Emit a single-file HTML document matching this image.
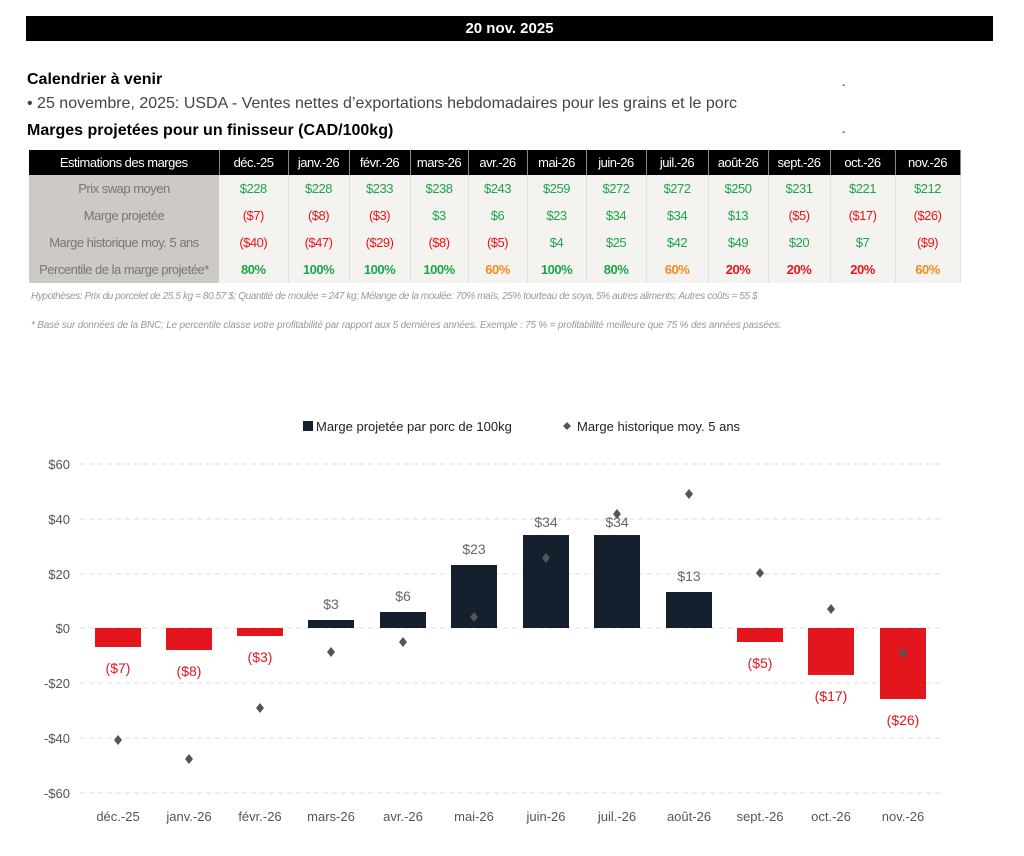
<!DOCTYPE html>
<html><head><meta charset="utf-8"><style>
body{margin:0;width:1024px;height:856px;background:#fff;font-family:"Liberation Sans",sans-serif;position:relative;overflow:hidden}
.a{position:absolute;white-space:nowrap}
table{position:absolute;left:29px;top:150px;width:931px;table-layout:fixed;border-collapse:collapse;font-size:13px;font-family:"Liberation Sans Narrow","Liberation Sans",sans-serif}
td{height:27px;padding:0;text-align:center;letter-spacing:-0.5px;overflow:hidden;white-space:nowrap}
th{height:25px;background:#000;color:#fff;font-weight:normal;border-right:1px solid #888;padding:0;letter-spacing:-0.5px;overflow:hidden;white-space:nowrap}
td.l{background:#cdc9c4;color:#777}
td.v{background:#f5f3ef;border-right:1px solid #e4e1dc}
.g{color:#1aa64a}.r{color:#e8141c}.o{color:#f08a1c}
.b{font-weight:bold}
</style></head><body>
<div class="a" style="left:26px;top:16px;width:967px;height:25px;background:#000;color:#fff;font-weight:bold;font-size:15px;text-align:center;line-height:25px">20 nov. 2025</div>
<div class="a" style="left:27px;top:71px;font-weight:bold;font-size:16px">Calendrier à venir</div>
<div class="a" style="left:27px;top:95px;font-size:16px;color:#444">• 25 novembre, 2025: USDA - Ventes nettes d’exportations hebdomadaires pour les grains et le porc</div>
<div class="a" style="left:27px;top:122px;font-weight:bold;font-size:16px">Marges projetées pour un finisseur (CAD/100kg)</div>
<div class="a" style="left:842px;top:80px;font-size:10px">-</div>
<div class="a" style="left:842px;top:127px;font-size:10px">-</div>
<table>
<colgroup><col style="width:190px"><col style="width:69px"><col style="width:61px"><col style="width:61px"><col style="width:58px"><col style="width:59px"><col style="width:59px"><col style="width:60px"><col style="width:62px"><col style="width:60px"><col style="width:62px"><col style="width:65px"><col style="width:65px"></colgroup>
<tr><th>Estimations des marges</th><th>déc.-25</th><th>janv.-26</th><th>févr.-26</th><th>mars-26</th><th>avr.-26</th><th>mai-26</th><th>juin-26</th><th>juil.-26</th><th>août-26</th><th>sept.-26</th><th>oct.-26</th><th>nov.-26</th></tr>
<tr><td class="l">Prix swap moyen</td><td class="v g">$228</td><td class="v g">$228</td><td class="v g">$233</td><td class="v g">$238</td><td class="v g">$243</td><td class="v g">$259</td><td class="v g">$272</td><td class="v g">$272</td><td class="v g">$250</td><td class="v g">$231</td><td class="v g">$221</td><td class="v g">$212</td></tr>
<tr><td class="l">Marge projetée</td><td class="v r">($7)</td><td class="v r">($8)</td><td class="v r">($3)</td><td class="v g">$3</td><td class="v g">$6</td><td class="v g">$23</td><td class="v g">$34</td><td class="v g">$34</td><td class="v g">$13</td><td class="v r">($5)</td><td class="v r">($17)</td><td class="v r">($26)</td></tr>
<tr><td class="l">Marge historique moy. 5 ans</td><td class="v r">($40)</td><td class="v r">($47)</td><td class="v r">($29)</td><td class="v r">($8)</td><td class="v r">($5)</td><td class="v g">$4</td><td class="v g">$25</td><td class="v g">$42</td><td class="v g">$49</td><td class="v g">$20</td><td class="v g">$7</td><td class="v r">($9)</td></tr>
<tr><td class="l">Percentile de la marge projetée*</td><td class="v g b">80%</td><td class="v g b">100%</td><td class="v g b">100%</td><td class="v g b">100%</td><td class="v o b">60%</td><td class="v g b">100%</td><td class="v g b">80%</td><td class="v o b">60%</td><td class="v r b">20%</td><td class="v r b">20%</td><td class="v r b">20%</td><td class="v o b">60%</td></tr>
</table>
<div class="a" style="left:31px;top:291px;font-size:10px;font-style:italic;color:#999;letter-spacing:-0.4px">Hypothèses: Prix du porcelet de 25.5 kg = 80.57 $; Quantité de moulée = 247 kg; Mélange de la moulée: 70% maïs, 25% tourteau de soya, 5% autres aliments; Autres coûts = 55 $</div>
<div class="a" style="left:31px;top:320px;font-size:10px;font-style:italic;color:#999;letter-spacing:-0.2px">* Basé sur données de la BNC; Le percentile classe votre profitabilité par rapport aux 5 dernières années. Exemple : 75 % = profitabilité meilleure que 75 % des années passées.</div>
<svg class="a" style="left:0;top:0" width="1024" height="856" font-family="Liberation Sans Narrow, Liberation Sans, sans-serif">
<rect x="303" y="421" width="10" height="10" fill="#14202e"/>
<text x="316" y="431" font-size="13" fill="#222">Marge projetée par porc de 100kg</text>
<path d="M567 422 l4 4 -4 4 -4 -4z" fill="#555"/>
<text x="577" y="431" font-size="13" fill="#222">Marge historique moy. 5 ans</text>
<g stroke="#ddd" stroke-dasharray="5,4">
<line x1="80" x2="940" y1="464" y2="464"/><line x1="80" x2="940" y1="519" y2="519"/><line x1="80" x2="940" y1="574" y2="574"/><line x1="80" x2="940" y1="628" y2="628"/><line x1="80" x2="940" y1="683" y2="683"/><line x1="80" x2="940" y1="738" y2="738"/><line x1="80" x2="940" y1="793" y2="793"/>
</g>
<g font-size="13" fill="#555" text-anchor="end">
<text x="70" y="469">$60</text><text x="70" y="524">$40</text><text x="70" y="579">$20</text><text x="70" y="633">$0</text><text x="70" y="688">-$20</text><text x="70" y="743">-$40</text><text x="70" y="798">-$60</text>
</g>
<g font-size="13" fill="#555" text-anchor="middle">
<text x="118" y="821">déc.-25</text><text x="189" y="821">janv.-26</text><text x="260" y="821">févr.-26</text><text x="331" y="821">mars-26</text><text x="403" y="821">avr.-26</text><text x="474" y="821">mai-26</text><text x="546" y="821">juin-26</text><text x="617" y="821">juil.-26</text><text x="689" y="821">août-26</text><text x="760" y="821">sept.-26</text><text x="831" y="821">oct.-26</text><text x="903" y="821">nov.-26</text>
</g>
<rect x="95" y="628" width="46" height="19" fill="#e3161e"/>
<rect x="166" y="628" width="46" height="22" fill="#e3161e"/>
<rect x="237" y="628" width="46" height="8" fill="#e3161e"/>
<rect x="308" y="620" width="46" height="8" fill="#14202e"/>
<rect x="380" y="612" width="46" height="16" fill="#14202e"/>
<rect x="451" y="565" width="46" height="63" fill="#14202e"/>
<rect x="523" y="535" width="46" height="93" fill="#14202e"/>
<rect x="594" y="535" width="46" height="93" fill="#14202e"/>
<rect x="666" y="592" width="46" height="36" fill="#14202e"/>
<rect x="737" y="628" width="46" height="14" fill="#e3161e"/>
<rect x="808" y="628" width="46" height="47" fill="#e3161e"/>
<rect x="880" y="628" width="46" height="71" fill="#e3161e"/>
<g font-size="14" text-anchor="middle">
<text x="118" y="673" fill="#e3161e">($7)</text><text x="189" y="676" fill="#e3161e">($8)</text><text x="260" y="662" fill="#e3161e">($3)</text>
<text x="331" y="609" fill="#666">$3</text><text x="403" y="601" fill="#666">$6</text><text x="474" y="554" fill="#666">$23</text><text x="546" y="527" fill="#666">$34</text><text x="617" y="527" fill="#666">$34</text><text x="689" y="581" fill="#666">$13</text>
<text x="760" y="668" fill="#e3161e">($5)</text><text x="831" y="701" fill="#e3161e">($17)</text><text x="903" y="725" fill="#e3161e">($26)</text>
</g>
<g fill="#555">
<path d="M118 735 l4 5 -4 5 -4 -5z"/><path d="M189 754 l4 5 -4 5 -4 -5z"/><path d="M260 703 l4 5 -4 5 -4 -5z"/><path d="M331 647 l4 5 -4 5 -4 -5z"/><path d="M403 637 l4 5 -4 5 -4 -5z"/><path d="M474 612 l4 5 -4 5 -4 -5z"/><path d="M546 553 l4 5 -4 5 -4 -5z"/><path d="M617 509 l4 5 -4 5 -4 -5z"/><path d="M689 489 l4 5 -4 5 -4 -5z"/><path d="M760 568 l4 5 -4 5 -4 -5z"/><path d="M831 604 l4 5 -4 5 -4 -5z"/><path d="M903 648 l4 5 -4 5 -4 -5z"/>
</g>
</svg>
</body></html>
